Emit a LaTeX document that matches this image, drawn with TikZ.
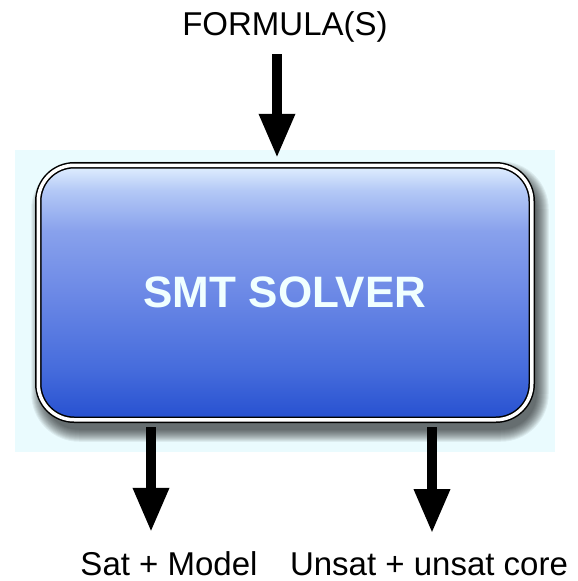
\documentclass[tikz,border=0pt]{standalone}
\usepackage{fontspec}
\setmainfont{Liberation Sans}
\usetikzlibrary{arrows.meta}

\definecolor{panel}{HTML}{EAFBFE}
\definecolor{smttext}{HTML}{F0FFFF}
\definecolor{sbA}{HTML}{2650D0}
\definecolor{sbB}{HTML}{466CDC}
\definecolor{sbC}{HTML}{6C89E6}
\definecolor{sbD}{HTML}{88A1EC}
\definecolor{sbE}{HTML}{B3C8F6}
\definecolor{sbF}{HTML}{E2F0FF}

% body colour of the solver box, light at the top and deep blue at the bottom
\pgfdeclareverticalshading{solverblue}{100bp}{%
  color(0bp)=(sbA); color(25bp)=(sbA); color(35bp)=(sbB); color(50bp)=(sbC);
  color(62bp)=(sbD); color(70bp)=(sbE); color(75bp)=(sbF); color(100bp)=(sbF)}

\begin{document}
\begin{tikzpicture}[x=1pt, y=-1pt,
  font=\fontsize{33}{40}\selectfont,
  bigarrow/.style={line width=9.5pt, -{Triangle[width=34pt,length=44pt]}},
  iotext/.style={inner sep=0pt, anchor=base}]
\useasboundingbox (0,0) rectangle (578,581);

% pale panel behind the solver
\fill[panel] (15,150) rectangle (555,452);

% soft drop shadow under the box
\foreach \i in {0,...,12}{
  \pgfmathsetmacro{\rr}{36+12-\i}
  \fill[black, opacity=0.06, rounded corners=\rr pt]
    (31.25+\i, 161.25+\i) rectangle (548.75-\i, 441.75-\i);
}

% the solver box
\node[draw=black, line width=1.5pt, double=white, double distance=3.5pt,
      rounded corners=36pt, shade, shading=solverblue,
      minimum width=493.5pt, minimum height=254.5pt, outer sep=7.5pt,
      text=smttext, font=\bfseries\fontsize{44}{50}\selectfont]
  (solver) at (285,292.5) {SMT SOLVER};

% input and outputs
\node[iotext] (formulas) at (285,35) {FORMULA(S)};
\node[iotext] (sat) at (169,575) {Sat + Model};
\node[iotext] (unsat) at (429,575) {Unsat + unsat core};

\coordinate (tin) at (277,54);
\coordinate (sx) at (151,0);
\coordinate (ux) at (432,0);

\draw[bigarrow] (tin) -- (tin |- solver.north);
\draw[bigarrow, shorten >=19pt] (solver.south -| sx) -- (sx |- sat.north);
\draw[bigarrow, shorten >=19pt] (solver.south -| ux) -- (ux |- unsat.north);
\end{tikzpicture}
\end{document}
